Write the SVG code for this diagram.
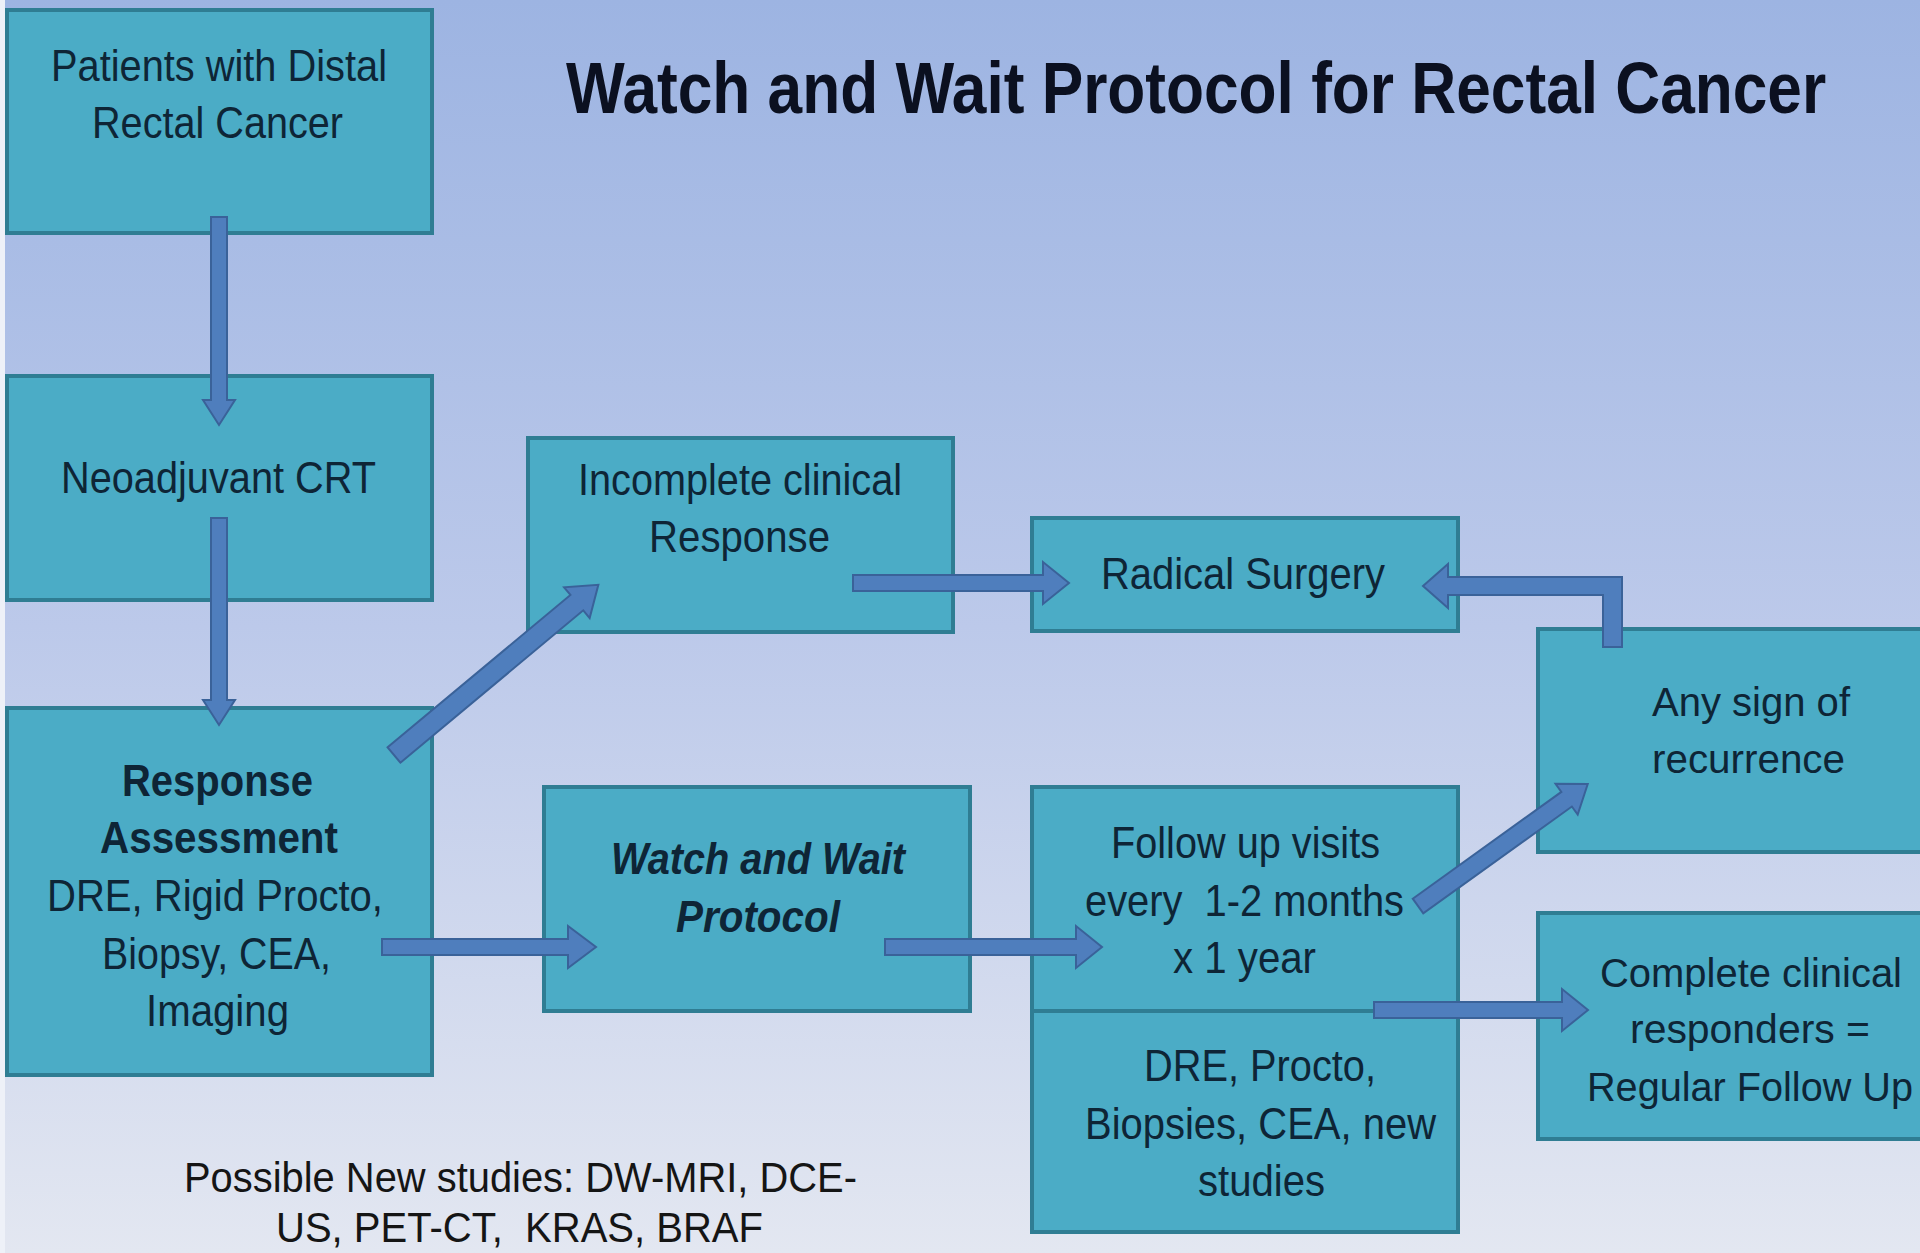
<svg xmlns="http://www.w3.org/2000/svg" width="1920" height="1253" viewBox="0 0 1920 1253">
<defs>
<linearGradient id="bg" x1="0" y1="0" x2="0" y2="1">
<stop offset="0" stop-color="#9DB4E2"/>
<stop offset="0.5" stop-color="#BCC9EA"/>
<stop offset="1" stop-color="#E3E7F1"/>
</linearGradient>
<style>
.box{fill:#4BACC6;stroke:#2F7D93;stroke-width:4}
.t{font-family:"Liberation Sans",Arial,sans-serif;font-size:44px;fill:#0E2536}
.t2{font-family:"Liberation Sans",Arial,sans-serif;font-size:40px;fill:#0E2536}
.b{font-weight:bold}
.bi{font-weight:bold;font-style:italic}
.arr{fill:#4F7EBD;stroke:#3A6299;stroke-width:2;stroke-linejoin:miter}
.title{font-family:"Liberation Sans",Arial,sans-serif;font-size:72px;font-weight:bold;fill:#0B1020}
.note{font-family:"Liberation Sans",Arial,sans-serif;font-size:42px;fill:#151515}
</style>
</defs>
<rect x="0" y="0" width="1920" height="1253" fill="url(#bg)"/>
<rect x="0" y="0" width="5" height="1253" fill="#EEF1F8"/>
<text class="title" transform="translate(566,113) scale(0.864,1)" x="0" y="0">Watch and Wait Protocol for Rectal Cancer</text>

<g id="node-patients">
<rect class="box" x="7" y="10" width="425" height="223"/>
<text class="t" x="51" y="81" textLength="336" lengthAdjust="spacingAndGlyphs">Patients with Distal</text>
<text class="t" x="92" y="138" textLength="251" lengthAdjust="spacingAndGlyphs">Rectal Cancer</text>
</g>
<g id="node-neoadjuvant">
<rect class="box" x="7" y="376" width="425" height="224"/>
<text class="t" x="61" y="493" textLength="315" lengthAdjust="spacingAndGlyphs">Neoadjuvant CRT</text>
</g>
<g id="node-response">
<rect class="box" x="7" y="708" width="425" height="367"/>
<text class="t b" x="122" y="796" textLength="191" lengthAdjust="spacingAndGlyphs">Response</text>
<text class="t b" x="100" y="853" textLength="238" lengthAdjust="spacingAndGlyphs">Assessment</text>
<text class="t" x="47" y="911" textLength="336" lengthAdjust="spacingAndGlyphs">DRE, Rigid Procto,</text>
<text class="t" x="102" y="969" textLength="229" lengthAdjust="spacingAndGlyphs">Biopsy, CEA,</text>
<text class="t" x="146" y="1026" textLength="143" lengthAdjust="spacingAndGlyphs">Imaging</text>
</g>
<g id="node-incomplete">
<rect class="box" x="528" y="438" width="425" height="194"/>
<text class="t" x="578" y="495" textLength="324" lengthAdjust="spacingAndGlyphs">Incomplete clinical</text>
<text class="t" x="649" y="552" textLength="181" lengthAdjust="spacingAndGlyphs">Response</text>
</g>
<g id="node-surgery">
<rect class="box" x="1032" y="518" width="426" height="113"/>
<text class="t" x="1101" y="589" textLength="284" lengthAdjust="spacingAndGlyphs">Radical Surgery</text>
</g>
<g id="node-watch">
<rect class="box" x="544" y="787" width="426" height="224"/>
<text class="t bi" x="611" y="874" textLength="294" lengthAdjust="spacingAndGlyphs">Watch and Wait</text>
<text class="t bi" x="676" y="932" textLength="164" lengthAdjust="spacingAndGlyphs">Protocol</text>
</g>
<g id="node-followup">
<rect class="box" x="1032" y="787" width="426" height="445"/>
<line x1="1032" y1="1011" x2="1458" y2="1011" stroke="#2F7D93" stroke-width="4"/>
<text class="t" x="1111" y="858" textLength="269" lengthAdjust="spacingAndGlyphs">Follow up visits</text>
<text class="t" x="1085" y="916" textLength="319" lengthAdjust="spacingAndGlyphs">every&#160; 1-2 months</text>
<text class="t" x="1173" y="973" textLength="143" lengthAdjust="spacingAndGlyphs">x 1 year</text>
<text class="t" x="1144" y="1081" textLength="232" lengthAdjust="spacingAndGlyphs">DRE, Procto,</text>
<text class="t" x="1085" y="1139" textLength="351" lengthAdjust="spacingAndGlyphs">Biopsies, CEA, new</text>
<text class="t" x="1198" y="1196" textLength="127" lengthAdjust="spacingAndGlyphs">studies</text>
</g>
<g id="node-recurrence">
<rect class="box" x="1538" y="629" width="390" height="223"/>
<text class="t2" x="1652" y="716" textLength="198" lengthAdjust="spacingAndGlyphs">Any sign of</text>
<text class="t2" x="1652" y="773" textLength="193" lengthAdjust="spacingAndGlyphs">recurrence</text>
</g>
<g id="node-complete">
<rect class="box" x="1538" y="913" width="390" height="226"/>
<text class="t2" x="1600" y="987" textLength="302" lengthAdjust="spacingAndGlyphs">Complete clinical</text>
<text class="t2" x="1630" y="1043" textLength="240" lengthAdjust="spacingAndGlyphs">responders =</text>
<text class="t2" x="1587" y="1101" textLength="326" lengthAdjust="spacingAndGlyphs">Regular Follow Up</text>
</g>
<g id="note">
<text class="note" x="184" y="1192" textLength="673" lengthAdjust="spacingAndGlyphs">Possible New studies: DW-MRI, DCE-</text>
<text class="note" x="276" y="1242" textLength="487" lengthAdjust="spacingAndGlyphs">US, PET-CT,&#160; KRAS, BRAF</text>
</g>

<g id="connectors">
<polygon class="arr" points="211,217 227,217 227,400 235,400 219,425 203,400 211,400"/>
<polygon class="arr" points="211,518 227,518 227,700 235,700 219,725 203,700 211,700"/>
<polygon class="arr" transform="translate(394,755) rotate(-39.8)" points="0,-10 238,-10 238,-20 266,0 238,20 238,10 0,10"/>
<polygon class="arr" points="382,939 568,939 568,926 596,947 568,968 568,955 382,955"/>
<polygon class="arr" points="853,575 1043,575 1043,562 1069,583 1043,604 1043,591 853,591"/>
<polygon class="arr" points="885,939 1076,939 1076,926 1102,947 1076,968 1076,955 885,955"/>
<polygon class="arr" transform="translate(1418,906) rotate(-35.7)" points="0,-9 183,-9 183,-19 209,0 183,19 183,9 0,9"/>
<polygon class="arr" points="1374,1002 1562,1002 1562,989 1588,1010 1562,1031 1562,1018 1374,1018"/>
<polygon class="arr" points="1423,586 1448,564 1448,577 1622,577 1622,647 1603,647 1603,595 1448,595 1448,608"/>
</g>
</svg>
